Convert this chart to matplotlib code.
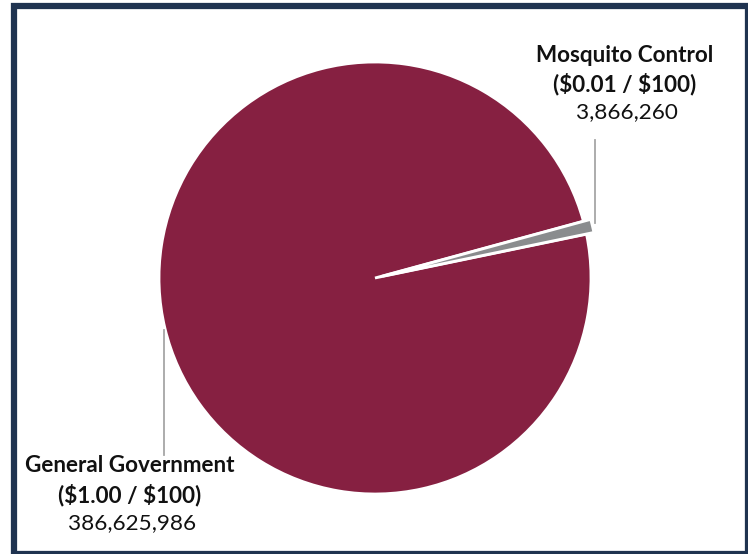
import matplotlib
matplotlib.use("Agg")
import matplotlib.pyplot as plt
from matplotlib.patches import Rectangle

# data
names = ["General Government\n($1.00 / $100)", "Mosquito Control\n($0.01 / $100)"]
values = [386625986, 3866260]
colors = ["#862041", "#8A8C8E"]

W, H = 748, 554
fig = plt.figure(figsize=(W / 100, H / 100), dpi=100)
plt.rcParams["font.family"] = ["Lato", "DejaVu Sans"]

# navy frame around the chart area
fig.patches.append(Rectangle((14 / W, 0), (W - 14) / W, (H - 6) / H, transform=fig.transFigure,
                             fill=False, edgecolor="#1F3350", linewidth=4.5))

# pie: center (375, 278) px, radius 216 px
r = 216
cx, cy = 375, 278
ax = fig.add_axes([(cx - r) / W, (H - cy - r) / H, 2 * r / W, 2 * r / H])
wedges, _ = ax.pie(values, colors=colors, startangle=11.7, counterclock=False,
                   explode=[0, 0.035], radius=1,
                   wedgeprops=dict(edgecolor="white", linewidth=2.0))
ax.set_xlim(-1, 1)
ax.set_ylim(-1, 1)
ax.set_aspect("equal")
ax.axis("off")


def px(x, y):
    # figure pixel -> figure fraction
    return x / W, 1 - y / H


# leader lines
for (x0, y0), (x1, y1) in [((595, 140), (595, 223)), ((164, 330), (164, 455))]:
    fig.add_artist(plt.Line2D([x0 / W, x1 / W], [1 - y0 / H, 1 - y1 / H],
                              transform=fig.transFigure, color="#A6A6A6", linewidth=1.3))

# labels
for name, val, (x, y) in [(names[0], values[0], (130, 466)), (names[1], values[1], (625, 55))]:
    title, sub = name.split("\n")
    kw = dict(ha="center", va="center", fontsize=16.2, color="#111111", parse_math=False)
    fig.text(*px(x, y), title, fontweight="bold", **kw)
    fig.text(*px(x, y + 29), sub, fontweight="bold", **kw)
    fig.text(*px(x + 2, y + 57), f"{val:,}", **kw)

fig.savefig("out.png", dpi=100, facecolor="white")
